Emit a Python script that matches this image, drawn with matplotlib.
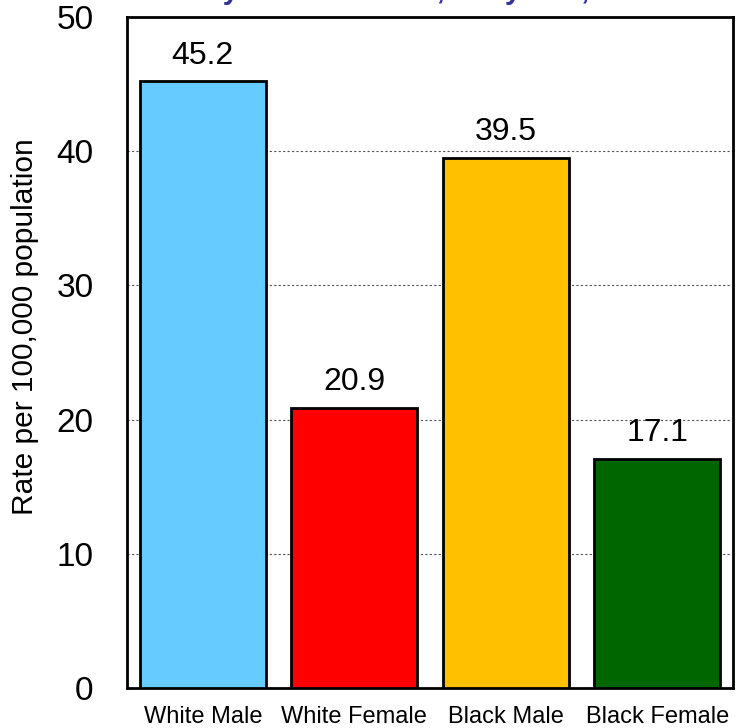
import matplotlib.pyplot as plt

categories = ['White Male', 'White Female', 'Black Male', 'Black Female']
rates = [45.2, 20.9, 39.5, 17.1]
colors = ['#66CCFF', '#FF0000', '#FFC000', '#006600']

plt.rcParams['font.family'] = ['Liberation Sans', 'DejaVu Sans']

fig = plt.figure(figsize=(7.43, 7.28), dpi=100)
ax = fig.add_axes([127 / 743, 40 / 728, 606 / 743, 671 / 728])

x = range(len(categories))
bars = ax.bar(x, rates, width=0.83, color=colors, edgecolor='black', linewidth=2, zorder=3)

for b, v in zip(bars, rates):
    ax.text(b.get_x() + b.get_width() / 2, v + 0.8, f'{v:.1f}', ha='center', va='bottom', fontsize=23)

ax.set_xlim(-0.5, 3.5)
ax.set_ylim(0, 50)
ax.set_yticks([0, 10, 20, 30, 40, 50])
ax.set_xticks(list(x))
ax.set_xticklabels(categories, fontsize=17)
ax.tick_params(axis='y', labelsize=24, length=0, pad=24)
ax.tick_params(axis='x', length=0, pad=13)
ax.yaxis.grid(True, linestyle=(0, (2, 2)), color='#555555', linewidth=0.8, zorder=0)
for s in ax.spines.values():
    s.set_linewidth(2)

ax.set_ylabel('Rate per 100,000 population', fontsize=21.5)
ax.yaxis.set_label_coords(-88 / 606, 0.538)

fig.text(0.583, 1 + 1 / 728, 'by Race and Sex, Maryland, 2010', ha='center', va='baseline',
         fontsize=21, fontweight='bold', color='#333399')

fig.savefig('out.png', dpi=100)
